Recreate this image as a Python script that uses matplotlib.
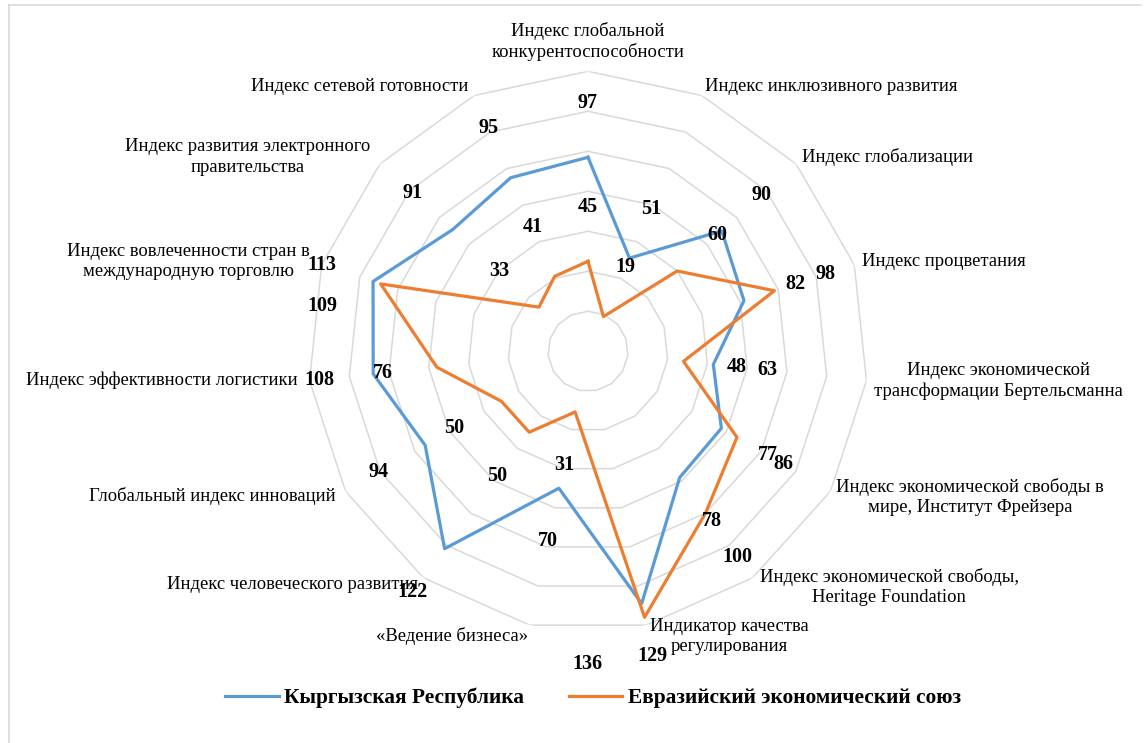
import matplotlib
matplotlib.use('Agg')
import matplotlib.pyplot as plt
import numpy as np
from matplotlib.lines import Line2D

plt.rcParams['font.family'] = ['Liberation Serif', 'DejaVu Serif']

categories = [
    'Индекс глобальной\nконкурентоспособности',
    'Индекс инклюзивного развития',
    'Индекс глобализации',
    'Индекс процветания',
    'Индекс экономической\nтрансформации Бертельсманна',
    'Индекс экономической свободы в\nмире, Институт Фрейзера',
    'Индекс экономической свободы,\nHeritage Foundation',
    'Индикатор качества\nрегулирования',
    '«Ведение бизнеса»',
    'Индекс человеческого развития',
    'Глобальный индекс инноваций',
    'Индекс эффективности логистики',
    'Индекс вовлеченности стран в\nмеждународную торговлю',
    'Индекс развития электронного\nправительства',
    'Индекс сетевой готовности',
]
kyrgyzstan = [97, 51, 90, 82, 63, 77, 78, 129, 70, 122, 94, 108, 113, 91, 95]
eaeu = [45, 19, 60, 98, 48, 86, 100, 136, 31, 50, 50, 76, 109, 33, 41]
series_names = ['Кыргызская Республика', 'Евразийский экономический союз']

blue = '#5B9BD5'
orange = '#ED7D31'
grid_col = '#D9D9D9'

# placement of the category labels: (dx, dy) in pixels from the outer ring vertex, alignment
cat_pos = [(0, 10, 'center'), (3, 9, 'left'), (6, 7, 'left'), (8, 3, 'left'),
           (8, 0, 'left'), (6, -6, 'left'), (7, -9, 'left'), (4, -11, 'left'),
           (-2, -11, 'right'), (-5, -7, 'right'), (-10, -5, 'right'), (-12, 0, 'right'),
           (-12, 3, 'right'), (-10, 7, 'right'), (-6, 9, 'right')]

n = len(categories)
theta = np.arange(n) * 2 * np.pi / n
theta_c = np.append(theta, theta[0])

fig = plt.figure(figsize=(11.45, 7.43), dpi=100)
ax = fig.add_axes([308 / 1145, 111.7 / 743, 560 / 1145, 560 / 743], polar=True)
ax.set_theta_zero_location('N')
ax.set_theta_direction(-1)
ax.set_ylim(0, 140)
ax.axis('off')

# polygon rings
for r in range(20, 141, 20):
    ax.plot(theta_c, [r] * (n + 1), color=grid_col, lw=1.1, zorder=1)

ax.plot(theta_c, kyrgyzstan + kyrgyzstan[:1], color=blue, lw=2.3, zorder=3,
        label=series_names[0])
ax.plot(theta_c, eaeu + eaeu[:1], color=orange, lw=2.3, zorder=3,
        label=series_names[1])

# data labels, pushed out along the radius
nudge = {(1, 7): (-68, 6), (1, 12): (-7, -39)}
for s, vals in enumerate([kyrgyzstan, eaeu]):
    for i, v in enumerate(vals):
        dx = 54 * np.sin(theta[i])
        dy = 54 * np.cos(theta[i])
        ex, ey = nudge.get((s, i), (0, 0))
        ax.annotate(str(v), xy=(theta[i], v), xytext=(dx + ex, dy + ey),
                    textcoords='offset pixels', ha='center', va='center',
                    fontsize=14.5, fontweight='bold', zorder=5)

# category labels
for i, lab in enumerate(categories):
    dx, dy, ha = cat_pos[i]
    va = 'bottom' if i == 0 else 'center'
    ax.annotate(lab, xy=(theta[i], 140), xytext=(dx, dy), textcoords='offset pixels',
                ha=ha, va=va, multialignment='center', fontsize=13.4,
                linespacing=1.25, annotation_clip=False)

fig.legend(loc='center', bbox_to_anchor=(593 / 1145, 1 - 698 / 743), ncol=2,
           frameon=False, handlelength=2.5, columnspacing=2.1, handletextpad=0.25,
           prop={'size': 15.4, 'weight': 'bold'})

# chart area border (left and top visible)
fig.add_artist(Line2D([9 / 1145, 9 / 1145], [0, 1 - 5 / 743], color=grid_col, lw=1.2))
fig.add_artist(Line2D([9 / 1145, 1141 / 1145], [1 - 5 / 743, 1 - 5 / 743], color=grid_col, lw=1.2))

fig.savefig('out.png', dpi=100)
